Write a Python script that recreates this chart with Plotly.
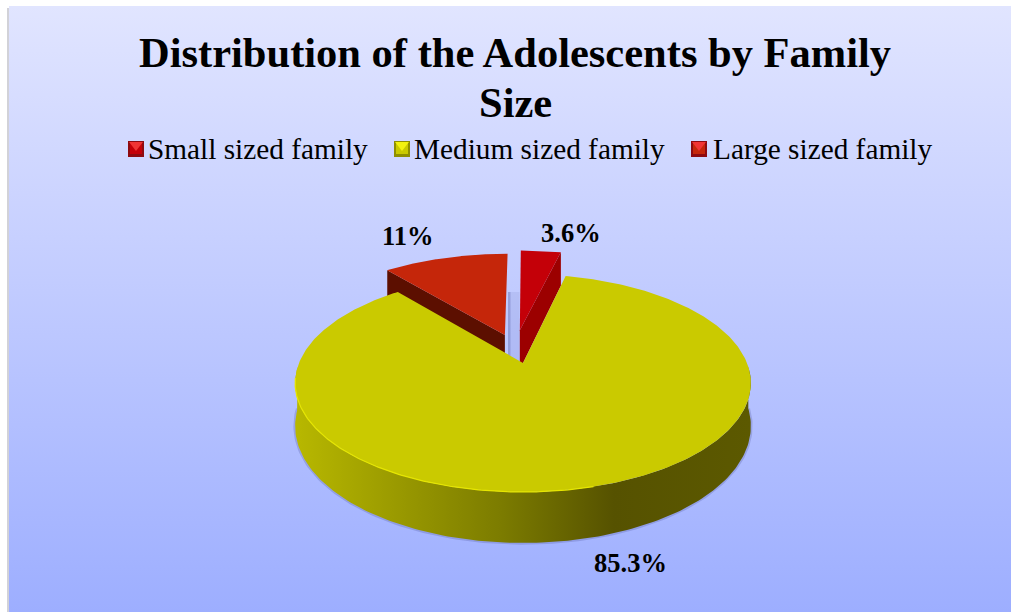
import numpy as np
import plotly.graph_objects as go

categories = ["Small sized family", "Medium sized family", "Large sized family"]
shares = [3.6, 85.3, 11]
title_lines = ["Distribution of the Adolescents by Family", "Size"]

FACE = ["#C40008", "#CACA00", "#C5260A"]
EDGE = ["#9C0000", "#8A8A00", "#5C0F00"]
SWATCH_DARK = ["#8E0A10", "#8F8F00", "#8E0A10"]
LIGHT = ["#F03434", "#F2F210", "#F03434"]
SERIF = "Liberation Serif"

# Perspective disc: u runs right, v runs towards the viewer, both in radii.
CX, CY, R, TILT, DEPTH_Y, WALL = 523.0, 363.0, 224.0, -0.1835, 38.7, 41.6
# Exploded offsets of the two small slices in disc radii.
PULL = [(-0.015, -0.33), (0.0, 0.0), (-0.085, -0.28)]


def project(u, v, lowered=False):
    u, v = np.asarray(u, float), np.asarray(v, float)
    w = 1 + TILT * v
    x = CX + R * u / w
    y = (CY + DEPTH_Y * v) / w
    if lowered:
        y = y + WALL / w
    return x, y


def rim(a0, a1, n=160):
    a = np.radians(np.linspace(a0, a1, n))
    return np.sin(a), -np.cos(a)


def polygon(x, y, **kw):
    return go.Scatter(x=list(x), y=list(y), mode="lines", fill="toself",
                      line=dict(width=0), hoverinfo="skip", **kw)


total = sum(shares)
ends = np.cumsum(shares) / total * 360
starts = np.concatenate([[0], ends[:-1]])

fig = go.Figure()

# Panel background and its thin left shadow
fig.add_trace(polygon([7, 9, 9, 7, 7], [8, 8, 612, 612, 8], fillcolor="#D2D2D8"))
fig.add_trace(polygon(
    [9, 1011, 1011, 9, 9], [6, 6, 612, 612, 6],
    fillgradient=dict(type="vertical",
                      colorscale=[[0, "#9DAEFF"], [1, "#E1E5FF"]])))

# Faint shade showing through the gap between the pulled-out slices
fig.add_trace(polygon([508, 519.5, 519.5, 508, 508], [292, 292, 365, 365, 292],
                      fillcolor="rgba(80,90,160,0.10)"))
fig.add_trace(polygon([508, 510.5, 510.5, 508, 508], [292, 292, 365, 365, 292],
                      fillcolor="rgba(80,90,160,0.30)"))

# Exposed side walls of the pulled-out slices
for i, edge_angle in [(2, starts[2]), (0, ends[0])]:
    du, dv = PULL[i]
    eu, ev = np.sin(np.radians(edge_angle)), -np.cos(np.radians(edge_angle))
    tx, ty = project([du, du + eu], [dv, dv + ev])
    bx, by = project([du + eu, du], [dv + ev, dv], lowered=True)
    fig.add_trace(polygon(np.r_[tx, bx, tx[0]], np.r_[ty, by, ty[0]], fillcolor=EDGE[i]))

# Top faces of the pulled-out slices
for i in (0, 2):
    du, dv = PULL[i]
    u, v = rim(starts[i], ends[i])
    fx, fy = project(np.r_[du, du + u, du], np.r_[dv, dv + v, dv])
    fig.add_trace(polygon(fx, fy, fillcolor=FACE[i]))

# Large slice: soft shadow beneath the rim, cylinder wall, then the face
u, v = rim(92, 268)
sx, sy = project(u, v, lowered=True)
fig.add_trace(go.Scatter(x=sx, y=sy, mode="lines", hoverinfo="skip",
                         line=dict(color="rgba(50,55,120,0.20)", width=3.5)))
tx, ty = project(u, v)
fig.add_trace(polygon(
    np.r_[tx, sx[::-1], tx[0]], np.r_[ty, sy[::-1], ty[0]],
    fillgradient=dict(type="horizontal", colorscale=[
        [0, "#B8B800"], [0.22, "#9A9A00"], [0.45, "#7C7C00"],
        [0.70, "#565200"], [1, "#5C5900"]])))

u, v = rim(starts[1], ends[1], 400)
fx, fy = project(np.r_[0, u, 0], np.r_[0, v, 0])
fig.add_trace(polygon(fx, fy, fillcolor=FACE[1]))

# Bevel highlight along the front-left of the face
u, v = rim(165, 262)
hx, hy = project(u, v)
fig.add_trace(go.Scatter(x=hx, y=hy, mode="lines", hoverinfo="skip",
                         line=dict(color="#E6E600", width=1.2)))

# Value labels
label_pos = [(570.5, 233), (630, 563), (408, 236)]
for share, (lx, ly) in zip(shares, label_pos):
    fig.add_annotation(x=lx, y=ly, text=f"<b>{share}%</b>", showarrow=False,
                       font=dict(family=SERIF, size=26.5, color="#000000"))

# Legend row: bevelled swatches followed by their names
swatch_x = [136, 402, 699]
legend_text_x = [146, 412, 711]
for i, name in enumerate(categories):
    fig.add_trace(go.Scatter(x=[swatch_x[i]], y=[149], mode="markers", hoverinfo="skip",
                             marker=dict(symbol="square", size=16, color=SWATCH_DARK[i])))
    fig.add_trace(go.Scatter(x=[swatch_x[i]], y=[148], mode="markers", hoverinfo="skip",
                             marker=dict(symbol="square", size=12, color=FACE[i])))
    fig.add_trace(go.Scatter(x=[swatch_x[i]], y=[145], mode="markers", hoverinfo="skip",
                             marker=dict(symbol="triangle-down", size=12, color=LIGHT[i])))
    fig.add_annotation(x=legend_text_x[i], y=149, text=name, showarrow=False, xanchor="left",
                       font=dict(family=SERIF, size=29.3, color="#000000"))

# Two-line heading, set closer than the default line height
for line, ly in zip(title_lines, (52, 102)):
    fig.add_annotation(x=515, y=ly, text=f"<b>{line}</b>", showarrow=False,
                       font=dict(family=SERIF, size=42.5, color="#000000"))

fig.update_layout(
    width=1011, height=612, margin=dict(l=0, r=0, t=0, b=0),
    paper_bgcolor="#FFFFFF", plot_bgcolor="#FFFFFF", showlegend=False,
    xaxis=dict(range=[0, 1011], visible=False, fixedrange=True),
    yaxis=dict(range=[612, 0], visible=False, fixedrange=True),
)

fig.write_html("out.html")
